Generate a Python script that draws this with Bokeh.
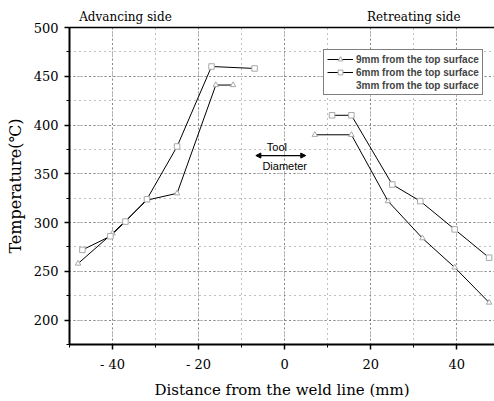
from bokeh.plotting import figure
from bokeh.models import (Label, Arrow, NormalHead, LinearAxis, Legend, LegendItem,
                          SingleIntervalTicker, FixedTicker, Range1d)
from bokeh.embed import file_html
from bokeh.resources import INLINE

# ---- data ----
# 9mm from the top surface (triangles)
x_adv_9mm = [-48, -40, -32, -25, -16, -12]
t_adv_9mm = [258, 289, 323, 330, 441, 441]
x_ret_9mm = [7, 15.5, 24, 32, 39.5, 47.5]
t_ret_9mm = [390, 390, 322, 284, 254, 218]

# 6mm from the top surface (squares)
x_adv_6mm = [-47, -40.5, -37, -32, -25, -17, -7]
t_adv_6mm = [272, 286, 301, 324, 378, 460, 458]
x_ret_6mm = [11, 15.5, 25, 31.5, 39.5, 47.5]
t_ret_6mm = [410, 410, 339, 322, 293, 264]

# 3mm from the top surface (not legible in the picture)
x_3mm = []
t_3mm = []

x_tick_labels = {-40: "- 40", -20: "- 20", 0: "0", 20: "20", 40: "40"}
side_positions = [-37, 30]
side_labels = {-37: "Advancing side", 30: "Retreating side"}

SERIF = "DejaVu Serif"
SANS = "Liberation Sans"

p = figure(width=494, height=401, output_backend="svg", toolbar_location=None,
           x_range=Range1d(-50, 48.75), y_range=Range1d(175, 500),
           min_border_left=69, min_border_right=0, min_border_top=27,
           min_border_bottom=55)
p.outline_line_color = None
p.background_fill_color = "white"

# axes
p.xaxis.ticker = SingleIntervalTicker(interval=20, num_minor_ticks=2)
p.yaxis.ticker = SingleIntervalTicker(interval=50, num_minor_ticks=2)
p.xaxis.major_label_overrides = x_tick_labels
for ax in (p.xaxis[0], p.yaxis[0]):
    ax.axis_line_width = 2
    ax.axis_line_color = "black"
    ax.major_tick_out = 5
    ax.major_tick_in = 0
    ax.minor_tick_out = 3
    ax.minor_tick_in = 0
    ax.major_tick_line_width = 1.5
    ax.major_label_text_font = SERIF
    ax.major_label_text_font_size = "13px"
    ax.major_label_text_color = "black"
    ax.axis_label_text_font = SERIF
    ax.axis_label_text_font_style = "normal"
    ax.axis_label_text_color = "black"
p.xaxis.axis_label = "Distance from the weld line (mm)"
p.yaxis.axis_label = "Temperature(℃)"
p.xaxis.axis_label_text_font_size = "15px"
p.yaxis.axis_label_text_font_size = "16px"
p.xaxis.major_label_standoff = 7
p.xaxis.axis_label_standoff = 6
p.yaxis.major_label_standoff = 6
p.yaxis.axis_label_standoff = 6

# top border carrying the side captions
top_axis = LinearAxis(ticker=FixedTicker(ticks=side_positions, minor_ticks=[]),
                      major_label_overrides=side_labels,
                      major_tick_line_color=None, minor_tick_line_color=None,
                      major_tick_out=0, major_tick_in=0,
                      major_label_standoff=4, axis_line_width=1.5,
                      major_label_text_font=SERIF, major_label_text_font_size="12px",
                      major_label_text_color="black")
p.add_layout(top_axis, "above")

# grid
for g in (p.xgrid[0], p.ygrid[0]):
    g.grid_line_color = "black"
    g.grid_line_dash = "1 3"
    g.grid_line_alpha = 0.6
    g.minor_grid_line_color = "black"
    g.minor_grid_line_dash = "1 4"
    g.minor_grid_line_alpha = 0.5

LINE = dict(line_color="black", line_width=1)
MK = dict(size=5.5, fill_color="white", line_color="#a8a8a8", line_width=1)

l9a = p.line(x_adv_9mm, t_adv_9mm, **LINE)
l9r = p.line(x_ret_9mm, t_ret_9mm, **LINE)
l6a = p.line(x_adv_6mm, t_adv_6mm, **LINE)
l6r = p.line(x_ret_6mm, t_ret_6mm, **LINE)
m9a = p.scatter(x_adv_9mm, t_adv_9mm, marker="triangle", **MK)
m9r = p.scatter(x_ret_9mm, t_ret_9mm, marker="triangle", **MK)
m6a = p.scatter(x_adv_6mm, t_adv_6mm, marker="square", **MK)
m6r = p.scatter(x_ret_6mm, t_ret_6mm, marker="square", **MK)
l3 = p.line(x_3mm, t_3mm, line_alpha=0)

legend = Legend(items=[
    LegendItem(label="9mm from the top surface", renderers=[l9a, m9a]),
    LegendItem(label="6mm from the top surface", renderers=[l6a, m6a]),
    LegendItem(label="3mm from the top surface", renderers=[l3]),
], location=(254, 249))
legend.label_text_font = SANS
legend.label_text_font_size = "10px"
legend.label_text_font_style = "bold"
legend.label_height = 12
legend.glyph_height = 12
legend.glyph_width = 26
legend.label_standoff = 3
legend.spacing = 1
legend.padding = 3
legend.margin = 0
legend.border_line_color = "black"
legend.border_line_width = 1.2
legend.background_fill_alpha = 1
p.add_layout(legend, "center")

# tool diameter marker
p.add_layout(Arrow(x_start=-6.7, y_start=368.7, x_end=4.9, y_end=368.7,
                   line_width=1.2, line_color="black",
                   start=NormalHead(size=5, fill_color="black", line_color="black"),
                   end=NormalHead(size=5, fill_color="black", line_color="black")))
p.add_layout(Label(x=-1.8, y=377.5, text="Tool", text_align="center",
                   text_baseline="middle", text_font=SANS, text_font_size="11px",
                   text_color="black"))
p.add_layout(Label(x=0, y=358, text="Diameter", text_align="center",
                   text_baseline="middle", text_font=SANS, text_font_size="11px",
                   text_color="black"))

open("out.html", "w").write(file_html(p, INLINE))
